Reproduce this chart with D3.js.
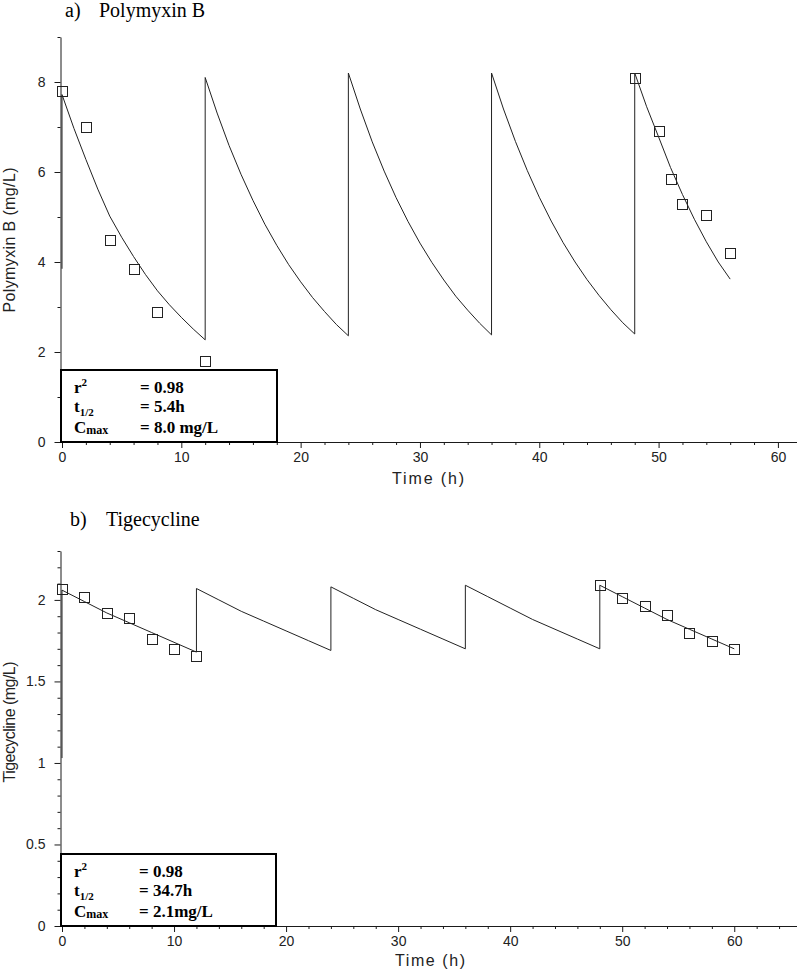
<!DOCTYPE html>
<html>
<head>
<meta charset="utf-8">
<script src="https://cdn.jsdelivr.net/npm/d3@7"></script>
<style>
  html, body { margin: 0; padding: 0; background: #fff; }
  svg { display: block; }
</style>
</head>
<body>
<svg id="chart" width="800" height="970"></svg>
<script>
// ---------- DATA ----------
// Panel a: Polymyxin B
const pmxDoseTimes = [0, 12, 24, 36, 48];
const pmxStartValue = 3.85;                 // value before first dose (t = 0)
const pmxCurveValues = [                    // hourly values after each dose
  [7.72, 6.97, 6.28, 5.62, 5.02, 4.55, 4.12, 3.72, 3.36, 3.05, 2.77, 2.51, 2.27],
  [8.10, 7.31, 6.59, 5.95, 5.37, 4.84, 4.37, 3.94, 3.56, 3.21, 2.90, 2.61, 2.36],
  [8.20, 7.40, 6.67, 6.02, 5.43, 4.90, 4.42, 3.99, 3.60, 3.24, 2.93, 2.64, 2.38],
  [8.20, 7.40, 6.68, 6.03, 5.44, 4.91, 4.43, 4.00, 3.61, 3.26, 2.94, 2.65, 2.40],
  [8.20, 7.45, 6.78, 6.10, 5.50, 4.95, 4.45, 4.00, 3.62]
];
const pmxObsTime = [0, 2, 4, 6, 8, 12, 48, 50, 51, 52, 54, 56];
const pmxObsConc = [7.8, 7.0, 4.5, 3.85, 2.9, 1.8, 8.1, 6.9, 5.85, 5.3, 5.05, 4.2];
const pmxXTicks = [0, 10, 20, 30, 40, 50, 60];
const pmxYTicks = [0, 2, 4, 6, 8];
const pmxStats = ["= 0.98", "= 5.4h", "= 8.0 mg/L"];

// Panel b: Tigecycline
const tgcDoseTimes = [0, 12, 24, 36, 48];
const tgcStartValue = 1.03;
const tgcStepHours = 2;
const tgcCurveValues = [                    // values every 2 h after each dose
  [2.06, 1.99, 1.92, 1.86, 1.80, 1.74, 1.68],
  [2.07, 2.00, 1.93, 1.87, 1.81, 1.75, 1.69],
  [2.08, 2.01, 1.94, 1.88, 1.82, 1.76, 1.70],
  [2.09, 2.02, 1.95, 1.88, 1.82, 1.76, 1.70],
  [2.09, 2.02, 1.95, 1.88, 1.82, 1.76, 1.70]
];
const tgcObsTime = [0, 2, 4, 6, 8, 10, 12, 48, 50, 52, 54, 56, 58, 60];
const tgcObsConc = [2.07, 2.02, 1.92, 1.89, 1.76, 1.70, 1.655, 2.09, 2.01, 1.96, 1.91, 1.80, 1.75, 1.70];
const tgcXTicks = [0, 10, 20, 30, 40, 50, 60];
const tgcYTicks = [0, 0.5, 1, 1.5, 2];
const tgcStats = ["= 0.98", "= 34.7h", "= 2.1mg/L"];

// ---------- DRAWING ----------
const svg = d3.select("#chart");
const SANS = "'Liberation Sans', Arial, sans-serif";
const SERIF = "'Liberation Serif', 'Times New Roman', serif";
const INK = "#1a1a1a";

function buildCurve(doseTimes, startValue, values, stepFn) {
  const pts = [[0, startValue]];
  values.forEach((seg, i) => {
    seg.forEach((v, j) => pts.push([doseTimes[i] + stepFn(j), v]));
  });
  return pts;
}

function drawPanel(cfg) {
  const g = svg.append("g");
  const x = d3.scaleLinear().domain([0, cfg.xMax]).range([cfg.x0 + 1, cfg.x1]);
  const y = d3.scaleLinear().domain([0, cfg.yMax]).range([cfg.yBottom, cfg.yTop]);

  const xMinor = d3.range(0, cfg.xMax + 0.001, cfg.xMinorStep).filter(v => !cfg.xTicks.some(t => Math.abs(t - v) < 1e-6));
  const yMinor = d3.range(0, cfg.yMax + 0.0001, cfg.yMinorStep)
    .map(v => +v.toFixed(4))
    .filter(v => !cfg.yTicks.some(t => Math.abs(t - v) < 1e-6));

  const xAxisG = g.append("g").attr("transform", `translate(0,${cfg.yBottom})`);
  xAxisG.call(d3.axisBottom(x).tickValues(cfg.xTicks).tickSize(6).tickSizeOuter(0).tickPadding(4));
  xAxisG.append("g").call(d3.axisBottom(x).tickValues(xMinor).tickSize(3).tickFormat("")).select(".domain").remove();
  xAxisG.select(".domain").attr("d", `M${cfg.x0},0.5H${cfg.x1}`);

  const yAxisG = g.append("g").attr("transform", `translate(${cfg.x0 - 0.5},0)`);
  yAxisG.call(d3.axisLeft(y).tickValues(cfg.yTicks).tickSize(6).tickSizeOuter(0).tickPadding(9)
    .tickFormat(d => d3.format("~g")(d)));
  yAxisG.append("g").call(d3.axisLeft(y).tickValues(yMinor).tickSize(3).tickFormat("")).select(".domain").remove();

  [xAxisG, yAxisG].forEach(a => {
    a.selectAll("path, line").attr("stroke", INK);
    a.selectAll("text").attr("font-family", SANS).attr("font-size", 14).attr("fill", "#222");
  });
  xAxisG.selectAll(".tick text").attr("dy", "0.71em");

  const line = d3.line().x(d => x(d[0])).y(d => y(d[1]));
  g.append("path").datum(cfg.curve)
    .attr("d", line).attr("fill", "none").attr("stroke", "#222").attr("stroke-width", 1);

  const s = 10;
  g.selectAll("rect.obs").data(cfg.obsT.map((t, i) => [t, cfg.obsC[i]]))
    .enter().append("rect").attr("class", "obs")
    .attr("x", d => Math.round(x(d[0]) - s / 2) + 0.5)
    .attr("y", d => Math.round(y(d[1]) - s / 2) + 0.5)
    .attr("width", s).attr("height", s)
    .attr("fill", "none").attr("stroke", "#222").attr("stroke-width", 1);

  const bx = cfg.x0, bw = cfg.boxW, bh = 72, by = cfg.yBottom - bh;
  g.append("rect").attr("x", bx).attr("y", by).attr("width", bw).attr("height", bh)
    .attr("fill", "#fff").attr("stroke", "#000").attr("stroke-width", 2);
  const rows = [by + 22.5, by + 42, by + 62.5];
  const lab = g.append("g").attr("font-family", SERIF).attr("font-weight", "bold").attr("font-size", 17).attr("fill", "#000");
  const r1 = lab.append("text").attr("x", bx + 13).attr("y", rows[0]);
  r1.append("tspan").text("r");
  r1.append("tspan").attr("font-size", 11).attr("dy", -7).text("2");
  const r2 = lab.append("text").attr("x", bx + 13).attr("y", rows[1]);
  r2.append("tspan").text("t");
  r2.append("tspan").attr("font-size", 11).attr("dy", 4).text("1/2");
  const r3 = lab.append("text").attr("x", bx + 13).attr("y", rows[2]);
  r3.append("tspan").text("C");
  r3.append("tspan").attr("font-size", 12).attr("dy", 1.5).text("max");
  cfg.stats.forEach((txt, i) => {
    lab.append("text").attr("x", bx + cfg.eqX).attr("y", rows[i]).text(txt);
  });

  svg.append("text").attr("x", cfg.titleX1).attr("y", cfg.titleY)
    .attr("font-family", SERIF).attr("font-size", 20).attr("fill", "#000").text(cfg.titleA);
  svg.append("text").attr("x", cfg.titleX2).attr("y", cfg.titleY)
    .attr("font-family", SERIF).attr("font-size", 20).attr("fill", "#000").text(cfg.titleB);

  svg.append("text").attr("x", cfg.xLabX).attr("y", cfg.xLabY).attr("text-anchor", "middle")
    .attr("font-family", SANS).attr("font-size", 16).attr("fill", "#222")
    .attr("textLength", cfg.xLabLen).attr("lengthAdjust", "spacing").text("Time (h)");
  svg.append("text").attr("transform", `translate(15,${cfg.yLabY}) rotate(-90)`).attr("text-anchor", "middle")
    .attr("font-family", SANS).attr("font-size", 16).attr("fill", "#222")
    .attr("textLength", cfg.yLabLen).attr("lengthAdjust", "spacing").text(cfg.yLabel);
}

drawPanel({
  x0: 61, x1: 797, xMax: 61.6, xTicks: pmxXTicks, xMinorStep: 2,
  yBottom: 442, yTop: 37, yMax: 9, yTicks: pmxYTicks, yMinorStep: 1,
  curve: buildCurve(pmxDoseTimes, pmxStartValue, pmxCurveValues, j => j),
  obsT: pmxObsTime, obsC: pmxObsConc,
  boxW: 216, eqX: 79, stats: pmxStats,
  titleA: "a)", titleB: "Polymyxin B", titleX1: 65, titleX2: 99, titleY: 17,
  xLabX: 428, xLabY: 484, xLabLen: 72,
  yLabel: "Polymyxin B (mg/L)", yLabY: 240, yLabLen: 145
});

drawPanel({
  x0: 61, x1: 797, xMax: 65.6, xTicks: tgcXTicks, xMinorStep: 2,
  yBottom: 926, yTop: 551, yMax: 2.3, yTicks: tgcYTicks, yMinorStep: 0.1,
  curve: buildCurve(tgcDoseTimes, tgcStartValue, tgcCurveValues, j => j * tgcStepHours),
  obsT: tgcObsTime, obsC: tgcObsConc,
  boxW: 215, eqX: 78, stats: tgcStats,
  titleA: "b)", titleB: "Tigecycline", titleX1: 70, titleX2: 106, titleY: 526,
  xLabX: 430, xLabY: 966, xLabLen: 70,
  yLabel: "Tigecycline (mg/L)", yLabY: 722, yLabLen: 121
});
</script>
</body>
</html>
